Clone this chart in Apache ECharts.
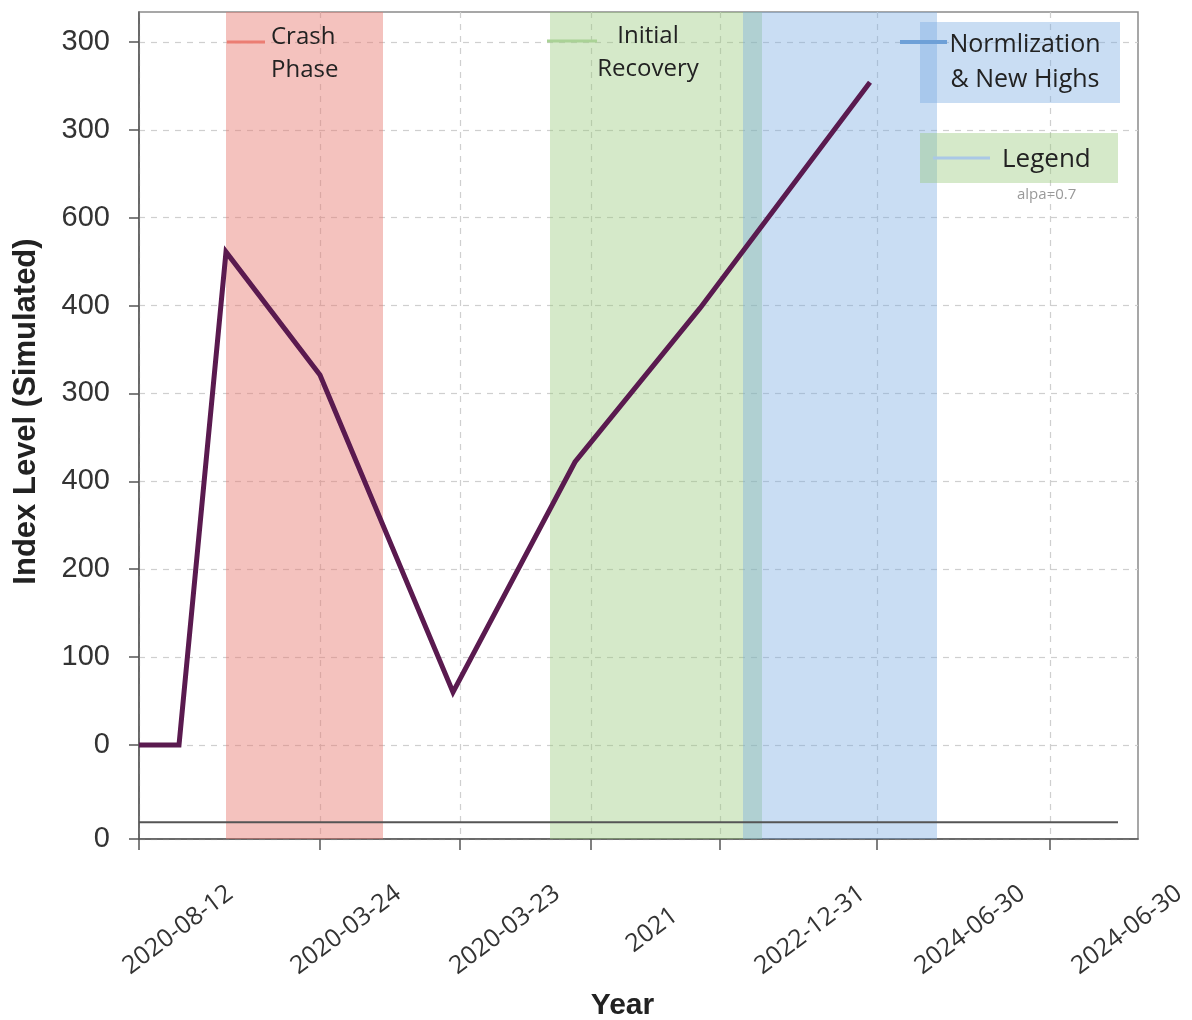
<!DOCTYPE html>
<html>
<head>
<meta charset="utf-8">
<script src="https://cdn.jsdelivr.net/npm/echarts@6/dist/echarts.min.js"></script>
<style>
    html, body { margin: 0; padding: 0; background: #fff; }
    #chart { width: 1192px; height: 1020px; }
</style>
</head>
<body>
<div id="chart"></div>
<script>
// simulated index path (x in time units along the axis)
var xValues = [0, 40, 87, 181, 314, 436, 561, 731];
var yValues = [0, 0, 561, 421, 60, 322, 497, 754];

// flat reference line near the bottom
var baseX = [0, 979];
var baseY = [-88, -88];

// shaded phases
var phaseNames = ['Crash\nPhase', 'Initial\nRecovery', 'Normlization\n& New Highs'];
var phaseStart = [87, 411, 604];
var phaseEnd = [244, 623, 798];
var phaseColors = ['rgba(230,120,110,0.45)', 'rgba(150,200,120,0.4)', 'rgba(120,170,225,0.4)'];

// x axis ticks and labels (labels sit apart from the ticks in the original)
var xTickValues = [0, 181, 321, 452, 581, 738, 911];
var xLabelValues = [39, 207, 366, 513, 671, 831, 988];
var xLabels = ['2020-08-12', '2020-03-24', '2020-03-23', '2021', '2022-12-31', '2024-06-30', '2024-06-30'];

// y axis ticks and their (odd) labels
var yTickValues = [-107, 0, 100, 200, 300, 400, 500, 600, 700, 800];
var yLabels = ['0', '0', '100', '200', '400', '300', '400', '600', '300', '300'];

var chart = echarts.init(document.getElementById('chart'));

var bands = [];
for (var i = 0; i < phaseStart.length; i++) {
    bands.push([
        { xAxis: phaseStart[i], itemStyle: { color: phaseColors[i] } },
        { xAxis: phaseEnd[i] }
    ]);
}

chart.setOption({
    animation: false,
    grid: {
        left: 139,
        right: 54,
        top: 12,
        bottom: 181,
        containLabel: false,
        outerBoundsMode: 'none',
        show: true,
        borderColor: '#8a8a8a',
        borderWidth: 1.5,
        backgroundColor: 'transparent'
    },
    xAxis: {
        type: 'value',
        min: 0,
        max: 999,
        name: 'Year',
        nameLocation: 'middle',
        nameGap: 152,
        nameMoveOverlap: false,
        nameTextStyle: {
            fontFamily: 'Liberation Sans',
            fontWeight: 'bold',
            fontSize: 30,
            color: '#222',
            padding: [0, 32, 0, 0]
        },
        axisLine: { show: true, onZero: false, lineStyle: { color: '#555', width: 1.5 } },
        axisTick: {
            show: true,
            inside: false,
            length: 11,
            customValues: xTickValues,
            lineStyle: { color: '#555', width: 1.5 }
        },
        axisLabel: {
            customValues: xLabelValues,
            rotate: 37,
            align: 'center',
            verticalAlign: 'middle',
            margin: 91,
            fontFamily: 'Open Sans',
            fontSize: 25,
            color: '#333',
            formatter: function (v) {
                var k = xLabelValues.indexOf(v);
                return k >= 0 ? xLabels[k] : '';
            }
        },
        splitLine: {
            show: true,
            lineStyle: { color: '#cfcfcf', type: [6, 6], width: 1.2 }
        }
    },
    yAxis: {
        type: 'value',
        min: -107,
        max: 834,
        name: 'Index Level (Simulated)',
        nameLocation: 'middle',
        nameGap: 97,
        nameRotate: 90,
        nameMoveOverlap: false,
        nameTextStyle: {
            fontFamily: 'Liberation Sans',
            fontWeight: 'bold',
            fontSize: 31,
            color: '#222',
            padding: [0, 0, 0, 28]
        },
        axisLine: { show: true, onZero: false, lineStyle: { color: '#555', width: 1.5 } },
        axisTick: {
            show: true,
            inside: false,
            length: 10,
            customValues: yTickValues,
            lineStyle: { color: '#555', width: 1.5 }
        },
        axisLabel: {
            customValues: yTickValues,
            margin: 29,
            fontFamily: 'Liberation Sans',
            fontSize: 29,
            color: '#333',
            formatter: function (v) {
                var k = yTickValues.indexOf(v);
                return k >= 0 ? yLabels[k] : '';
            }
        },
        splitLine: {
            show: true,
            lineStyle: { color: '#cfcfcf', type: [6, 6], width: 1.2 }
        }
    },
    series: [
        {
            name: 'Index',
            type: 'line',
            data: xValues.map(function (x, i) { return [x, yValues[i]]; }),
            symbol: 'none',
            z: 5,
            lineStyle: { color: '#5a1a4f', width: 5, join: 'miter' },
            markArea: {
                silent: true,
                data: bands
            }
        },
        {
            name: 'base',
            type: 'line',
            data: baseX.map(function (x, i) { return [x, baseY[i]]; }),
            symbol: 'none',
            z: 4,
            lineStyle: { color: '#555', width: 2 }
        }
    ],
    graphic: [
        // Crash phase key
        { type: 'line', z: 100, shape: { x1: 227, y1: 42, x2: 265, y2: 42 },
          style: { stroke: 'rgb(235,125,115)', lineWidth: 3 } },
        { type: 'text', z: 100, x: 271, y: 21,
          style: { text: phaseNames[0], font: '24px "Open Sans"', fill: '#222', lineHeight: 33 } },
        // Initial recovery key
        { type: 'line', z: 100, shape: { x1: 547, y1: 41, x2: 597, y2: 41 },
          style: { stroke: 'rgb(170,210,150)', lineWidth: 3 } },
        { type: 'text', z: 100, x: 648, y: 20,
          style: { text: phaseNames[1], font: '24px "Open Sans"', fill: '#222', lineHeight: 33, align: 'center' } },
        // Normalization box
        { type: 'rect', z: 90, shape: { x: 920, y: 22, width: 200, height: 81 },
          style: { fill: 'rgba(120,170,225,0.4)' } },
        { type: 'line', z: 100, shape: { x1: 900, y1: 42, x2: 947, y2: 42 },
          style: { stroke: 'rgb(110,160,215)', lineWidth: 4 } },
        { type: 'text', z: 100, x: 1025, y: 27,
          style: { text: phaseNames[2], font: '25px "Open Sans"', fill: '#222', lineHeight: 35, align: 'center' } },
        // Legend box
        { type: 'rect', z: 90, shape: { x: 920, y: 133, width: 198, height: 50 },
          style: { fill: 'rgba(150,200,120,0.4)' } },
        { type: 'line', z: 100, shape: { x1: 933, y1: 158, x2: 990, y2: 158 },
          style: { stroke: 'rgb(170,200,230)', lineWidth: 3 } },
        { type: 'text', z: 100, x: 1002, y: 160,
          style: { text: 'Legend', font: '26px "Open Sans"', fill: '#222', verticalAlign: 'middle' } },
        { type: 'text', z: 100, x: 1017, y: 195,
          style: { text: 'alpa=0.7', font: '15px "Open Sans"', fill: '#999', verticalAlign: 'middle' } }
    ]
});
</script>
</body>
</html>
